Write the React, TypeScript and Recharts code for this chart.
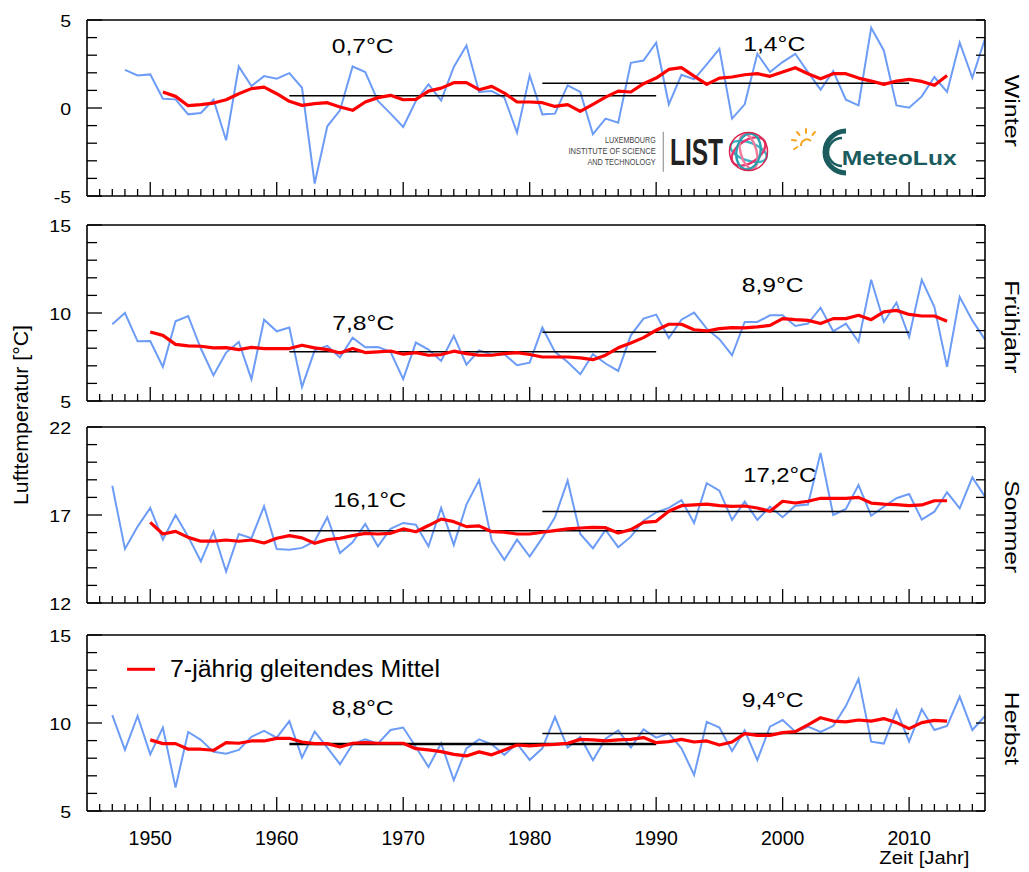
import { LineChart, Line, XAxis, YAxis, ReferenceLine } from "recharts";

const FONT = '"Liberation Sans", Arial, Helvetica, sans-serif';
const BLUE = "#6d9cf6";
const RED = "#ff0000";

// years shown, first value year per series
const YEARS = Array.from({ length: 70 }, (_, i) => 1947 + i);
const X_TICKS = Array.from({ length: 70 }, (_, i) => 1946 + i);

const SEASONS = ["Winter", "Frühjahr", "Sommer", "Herbst"];
const Y_MIN = [-5, 5, 12, 5];
const PERIOD_A = [1961, 1990];
const PERIOD_B = [1981, 2010];
const NORMAL_A = [0.7, 7.8, 16.1, 8.8];
const NORMAL_B = [1.4, 8.9, 17.2, 9.4];
const VALUE_START = [1948, 1947, 1947, 1947];
const MEAN_START = [1951, 1950, 1950, 1950];

const winterValues = [
  2.17, 1.85, 1.91, 0.53, 0.49, -0.36, -0.28, 0.47, -1.83, 2.36,
  1.25, 1.81, 1.66, 1.98, 1.15, -4.29, -1.04, -0.13, 2.36, 2.04,
  0.4, -0.32, -1.08, 0.4, 1.34, 0.43, 2.33, 3.55, 0.91, 0.96,
  0.59, -1.4, 1.85, -0.36, -0.32, 1.29, 0.91, -1.49, -0.6, -0.83,
  2.57, 2.7, 3.71, 0.21, 1.89, 1.63, 2.48, 3.36, -0.6, 0.21,
  3.08, 2.04, 2.61, 3.08, 2.04, 1.04, 2.1, 0.47, 0.15, 4.56,
  3.27, 0.15, 0.02, 0.66, 1.76, 0.91, 3.71, 1.72, 3.93,
];
const winterMean = [
  0.91, 0.66, 0.13, 0.19, 0.28, 0.47, 0.81, 1.1, 1.19, 0.81,
  0.38, 0.15, 0.25, 0.3, 0.06, -0.13, 0.34, 0.59, 0.72, 0.47,
  0.49, 0.96, 1.13, 1.44, 1.44, 1.04, 1.23, 0.85, 0.34, 0.34,
  0.3, 0.09, 0.19, -0.19, 0.21, 0.62, 0.96, 0.91, 1.38, 1.7,
  2.19, 2.29, 1.81, 1.34, 1.7, 1.76, 1.89, 1.95, 1.8, 2.04,
  2.29, 1.95, 1.66, 1.95, 1.95, 1.7, 1.53, 1.34, 1.53, 1.63,
  1.51, 1.29, 1.85,
];

const springValues = [
  9.36, 10.0, 8.39, 8.41, 6.94, 9.53, 9.83, 7.98, 6.46, 7.75,
  8.36, 6.24, 9.62, 8.96, 9.17, 5.8, 7.88, 8.13, 7.47, 8.6,
  8.05, 8.07, 7.79, 6.24, 8.32, 7.92, 7.28, 8.7, 7.07, 7.88,
  7.64, 7.66, 7.03, 7.18, 9.17, 7.79, 7.22, 6.52, 7.66, 7.13,
  6.71, 8.73, 9.68, 9.91, 8.58, 9.62, 10.02, 9.11, 8.51, 7.6,
  9.49, 9.49, 9.87, 9.87, 9.26, 9.4, 10.3, 8.96, 9.4, 8.36,
  11.89, 9.49, 10.59, 8.64, 11.89, 10.34, 6.94, 10.91, 9.58, 8.49,
];
const springMean = [
  8.92, 8.73, 8.22, 8.13, 8.11, 8.02, 8.03, 7.92, 8.05, 7.98,
  7.98, 7.98, 8.17, 8.02, 7.92, 7.73, 7.98, 7.75, 7.79, 7.84,
  7.66, 7.75, 7.6, 7.64, 7.83, 7.69, 7.6, 7.6, 7.69, 7.75,
  7.64, 7.5, 7.5, 7.5, 7.45, 7.35, 7.6, 8.02, 8.3, 8.6,
  9.02, 9.36, 9.36, 9.05, 8.98, 9.11, 9.17, 9.15, 9.21, 9.3,
  9.68, 9.62, 9.58, 9.4, 9.68, 9.68, 9.87, 9.62, 10.06, 10.15,
  9.92, 9.83, 9.83, 9.53,
];

const summerValues = [
  18.66, 15.07, 16.34, 17.4, 15.6, 17.0, 15.77, 14.37, 16.05, 13.79,
  15.92, 15.68, 17.49, 15.07, 15.02, 15.13, 15.51, 16.87, 14.84, 15.45,
  16.49, 15.22, 16.21, 16.55, 16.45, 15.22, 17.4, 15.3, 17.59, 18.98,
  15.54, 14.45, 15.6, 14.64, 15.7, 16.87, 18.95, 15.92, 15.11, 16.15,
  15.17, 15.77, 16.68, 17.15, 17.4, 17.85, 16.55, 18.81, 18.38, 16.72,
  17.76, 16.72, 17.47, 16.87, 17.53, 17.59, 20.52, 17.0, 17.34, 18.7,
  16.96, 17.47, 17.95, 18.19, 16.74, 17.19, 18.29, 17.38, 19.14, 18.04,
];
const summerMean = [
  16.58, 15.92, 16.07, 15.73, 15.51, 15.51, 15.58, 15.51, 15.58, 15.41,
  15.68, 15.83, 15.7, 15.39, 15.6, 15.68, 15.83, 15.96, 15.92, 15.96,
  16.21, 16.05, 16.4, 16.77, 16.62, 16.34, 16.38, 16.05, 16.02, 15.92,
  15.92, 16.02, 16.11, 16.21, 16.26, 16.3, 16.28, 15.98, 16.17, 16.58,
  16.64, 17.21, 17.53, 17.57, 17.62, 17.53, 17.49, 17.51, 17.4, 17.21,
  17.78, 17.68, 17.78, 17.95, 17.95, 17.95, 18.0, 17.68, 17.62, 17.59,
  17.53, 17.57, 17.81, 17.81,
];

const autumnValues = [
  10.45, 8.47, 10.4, 8.22, 9.74, 6.33, 9.49, 9.04, 8.36, 8.26,
  8.47, 9.22, 9.55, 9.17, 10.11, 8.03, 9.51, 8.6, 7.66, 8.79,
  9.07, 8.83, 9.6, 9.74, 8.64, 7.5, 8.85, 6.75, 8.56, 9.07,
  8.79, 8.19, 8.83, 7.9, 8.56, 10.34, 8.6, 9.21, 7.88, 9.11,
  9.58, 8.6, 9.64, 9.17, 9.41, 8.56, 7.05, 10.06, 9.74, 8.41,
  9.58, 7.9, 9.79, 10.17, 9.51, 9.79, 9.49, 9.83, 10.96, 12.51,
  8.94, 8.83, 10.72, 8.94, 10.78, 9.6, 9.83, 11.49, 9.6, 10.4,
];
const autumnMean = [
  9.04, 8.83, 8.83, 8.51, 8.51, 8.45, 8.88, 8.85, 8.98, 8.98,
  9.13, 9.13, 8.92, 8.83, 8.83, 8.64, 8.85, 8.88, 8.85, 8.85,
  8.85, 8.54, 8.47, 8.37, 8.22, 8.13, 8.36, 8.19, 8.47, 8.75,
  8.7, 8.75, 8.79, 8.85, 9.07, 9.04, 8.98, 9.04, 9.07, 9.17,
  8.88, 8.94, 9.07, 8.92, 8.98, 8.75, 8.92, 9.4, 9.3, 9.3,
  9.45, 9.51, 9.89, 10.3, 10.11, 10.06, 10.17, 10.11, 10.25, 10.02,
  9.68, 10.02, 10.15, 10.11,
];

const VALUES = [winterValues, springValues, summerValues, autumnValues];
const MEANS = [winterMean, springMean, summerMean, autumnMean];

// layout
const W = 1029;
const PLOT_LEFT = 87;
const PLOT_RIGHT = 985;
const PLOT_H = 176;
const PANEL_TOP = [20, 225, 427, 635];
const PAD = 14;
// value label spots: [x, baseline] for A and B normals
const LABEL_A = [[331.7, 53.3], [332.3, 330], [333.3, 507.3], [331.7, 715]];
const LABEL_B = [[743.3, 50.7], [741.7, 292.3], [743.3, 482.3], [741.7, 707.3]];
const SEASON_Y = [110.8, 326.7, 526.7, 728.3];
const SEASON_LEN = [72, 93, 93, 73];

const fmt = (v: number) => v.toFixed(1).replace(".", ",") + "°C";

function rowsFor(i: number) {
  const vals = VALUES[i];
  const means = MEANS[i];
  return YEARS.map((year) => {
    const vi = year - VALUE_START[i];
    const mi = year - MEAN_START[i];
    return {
      year,
      value: vi >= 0 && vi < vals.length ? vals[vi] : null,
      mean: mi >= 0 && mi < means.length ? means[mi] : null,
    };
  });
}

function BottomTick(props: any) {
  const { x, y, payload, showLabel } = props;
  const v = payload.value as number;
  const major = v % 10 === 0;
  return (
    <g>
      <line x1={x} x2={x} y1={y} y2={y - (major ? 14 : 7)} stroke="#000" strokeWidth={1.3} />
      {showLabel && major && (
        <text x={x} y={y + 34} textAnchor="middle" fontSize={19.5} fontFamily={FONT} fill="#000">
          {v}
        </text>
      )}
    </g>
  );
}

function LeftTick(props: any) {
  const { x, y, payload, lo } = props;
  const v = payload.value as number;
  const major = (v - lo) % 5 === 0;
  return (
    <g>
      <line x1={x} x2={x + (major ? 15 : 10)} y1={y} y2={y} stroke="#000" strokeWidth={1.3} />
      {major && (
        <text
          transform={`translate(${x - 16},${y + 6.5}) scale(1.15,1)`}
          textAnchor="end"
          fontSize={17}
          fontFamily={FONT}
          fill="#000"
        >
          {v}
        </text>
      )}
    </g>
  );
}

function RightTick(props: any) {
  const { x, y } = props;
  return <line x1={x} x2={x - 9} y1={y} y2={y} stroke="#000" strokeWidth={1.3} />;
}

function Panel({ i }: { i: number }) {
  const lo = Y_MIN[i];
  const hi = lo + 10;
  const yTicks = Array.from({ length: 11 }, (_, k) => lo + k);
  const last = i === 3;
  const bottom = last ? 60 : PAD;
  const frame = { stroke: "#000", strokeWidth: 1.6 };
  // axes are 1px thick, so margins shrink by 1 to keep the plot box in place
  return (
    <div style={{ position: "absolute", left: 0, top: PANEL_TOP[i] - PAD }}>
      <LineChart
        width={W}
        height={PAD + PLOT_H + bottom}
        data={rowsFor(i)}
        margin={{ top: PAD - 1, right: W - PLOT_RIGHT - 1, bottom: bottom - 1, left: PLOT_LEFT - 1 }}
      >
        <XAxis
          dataKey="year"
          type="number"
          domain={[1945, 2016]}
          allowDataOverflow
          ticks={X_TICKS}
          interval={0}
          height={1}
          tickSize={0}
          tickMargin={0}
          tickLine={false}
          axisLine={frame}
          tick={(p: any) => <BottomTick {...p} showLabel={last} />}
        />
        <XAxis
          xAxisId="top"
          orientation="top"
          dataKey="year"
          type="number"
          domain={[1945, 2016]}
          allowDataOverflow
          height={1}
          ticks={[1945, 2016]}
          tickSize={0}
          tickLine={false}
          tick={() => <g />}
          axisLine={frame}
        />
        <YAxis
          type="number"
          domain={[lo, hi]}
          allowDataOverflow
          ticks={yTicks}
          interval={0}
          width={1}
          tickSize={0}
          tickMargin={0}
          tickLine={false}
          axisLine={frame}
          tick={(p: any) => <LeftTick {...p} lo={lo} />}
        />
        <YAxis
          yAxisId="right"
          orientation="right"
          type="number"
          domain={[lo, hi]}
          allowDataOverflow
          ticks={yTicks}
          interval={0}
          width={1}
          tickSize={0}
          tickMargin={0}
          tickLine={false}
          axisLine={frame}
          tick={(p: any) => <RightTick {...p} />}
        />
        <Line dataKey="value" stroke={BLUE} strokeWidth={2} dot={false} activeDot={false} isAnimationActive={false} />
        <ReferenceLine
          segment={[{ x: PERIOD_A[0], y: NORMAL_A[i] }, { x: PERIOD_A[1], y: NORMAL_A[i] }]}
          stroke="#000"
          strokeWidth={last ? 2.5 : 1.5}
        />
        <ReferenceLine
          segment={[{ x: PERIOD_B[0], y: NORMAL_B[i] }, { x: PERIOD_B[1], y: NORMAL_B[i] }]}
          stroke="#000"
          strokeWidth={1.5}
        />
        <Line
          dataKey="mean"
          stroke={RED}
          strokeWidth={3.2}
          strokeLinejoin="round"
          dot={false}
          activeDot={false}
          isAnimationActive={false}
        />
      </LineChart>
    </div>
  );
}

function Logos() {
  return (
    <g>
      <g fontFamily='"Liberation Sans Narrow", "Liberation Sans", Arial, sans-serif' fontSize={9} fill="#444" textAnchor="end">
        <text x={655.7} y={143.3} textLength={50.7} lengthAdjust="spacingAndGlyphs">LUXEMBOURG</text>
        <text x={655.7} y={154} textLength={87.3} lengthAdjust="spacingAndGlyphs">INSTITUTE OF SCIENCE</text>
        <text x={655.7} y={165} textLength={68.3} lengthAdjust="spacingAndGlyphs">AND TECHNOLOGY</text>
      </g>
      <line x1={663.3} x2={663.3} y1={131.7} y2={171.7} stroke="#999" strokeWidth={1.2} />
      <text x={670} y={165} fontFamily={FONT} fontWeight="bold" fontSize={37} fill="#222" textLength={53} lengthAdjust="spacingAndGlyphs">
        LIST
      </text>
      <g fill="none" strokeWidth={2.4}>
        <ellipse cx={748.5} cy={151.5} rx={19} ry={9} stroke="#3cb6c6" transform="rotate(20 748.5 151.5)" />
        <ellipse cx={748.5} cy={151.5} rx={19} ry={11} stroke="#e8336d" transform="rotate(-35 748.5 151.5)" />
        <ellipse cx={748.5} cy={151.5} rx={18} ry={8} stroke="#f07a9c" transform="rotate(75 748.5 151.5)" />
        <ellipse cx={748.5} cy={151.5} rx={18} ry={12} stroke="#2a9fb0" transform="rotate(-80 748.5 151.5)" />
        <circle cx={748.5} cy={151.5} r={19} stroke="#d9234f" strokeWidth={1.5} />
      </g>
      <g stroke="#f5a623" strokeWidth={2} strokeLinecap="round">
        <line x1={806} y1={129} x2={806} y2={133} />
        <line x1={797} y1={132} x2={799.5} y2={135} />
        <line x1={815} y1={132} x2={812.5} y2={135} />
        <line x1={792} y1={140} x2={796} y2={140.5} />
        <line x1={794} y1={149} x2={797.5} y2={147} />
      </g>
      <path d="M 811 141 A 6 6 0 0 0 801 146" fill="none" stroke="#f5a623" strokeWidth={2} />
      <path d="M 846 131 A 21 21 0 1 0 846 173" fill="none" stroke="#1b5c5e" strokeWidth={5} />
      <path d="M 842 138 A 14 14 0 1 0 842 166" fill="none" stroke="#1b5c5e" strokeWidth={2.5} />
      <text x={841.7} y={165} fontFamily={FONT} fontWeight="bold" fontSize={21} fill="#1b5c5e" textLength={115} lengthAdjust="spacingAndGlyphs">
        MeteoLux
      </text>
    </g>
  );
}

function Overlay() {
  return (
    <svg width={W} height={872} style={{ position: "absolute", left: 0, top: 0, pointerEvents: "none" }} fontFamily={FONT}>
      {SEASONS.map((s, i) => (
        <g key={s}>
          <text x={LABEL_A[i][0]} y={LABEL_A[i][1]} fontSize={20.5} textLength={NORMAL_A[i] >= 10 ? 73 : 62} lengthAdjust="spacingAndGlyphs">
            {fmt(NORMAL_A[i])}
          </text>
          <text x={LABEL_B[i][0]} y={LABEL_B[i][1]} fontSize={20.5} textLength={NORMAL_B[i] >= 10 ? 73 : 62} lengthAdjust="spacingAndGlyphs">
            {fmt(NORMAL_B[i])}
          </text>
          <text
            transform={`translate(1005,${SEASON_Y[i]}) rotate(90)`}
            textAnchor="middle"
            fontSize={21}
            textLength={SEASON_LEN[i]}
            lengthAdjust="spacingAndGlyphs"
          >
            {s}
          </text>
        </g>
      ))}
      <text transform="translate(28,415) rotate(-90)" textAnchor="middle" fontSize={20} textLength={180} lengthAdjust="spacingAndGlyphs">
        Lufttemperatur [°C]
      </text>
      <text x={879.3} y={864} fontSize={17.5} textLength={90} lengthAdjust="spacingAndGlyphs">
        Zeit [Jahr]
      </text>
      <line x1={127} x2={155} y1={669.3} y2={669.3} stroke={RED} strokeWidth={3} />
      <text x={170} y={676.7} fontSize={23} textLength={270} lengthAdjust="spacingAndGlyphs">
        7-jährig gleitendes Mittel
      </text>
      <Logos />
    </svg>
  );
}

export default function App() {
  return (
    <div style={{ position: "absolute", left: 0, top: 0, width: W, height: 872, background: "#fff", fontFamily: FONT }}>
      {SEASONS.map((s, i) => (
        <Panel key={s} i={i} />
      ))}
      <Overlay />
    </div>
  );
}
